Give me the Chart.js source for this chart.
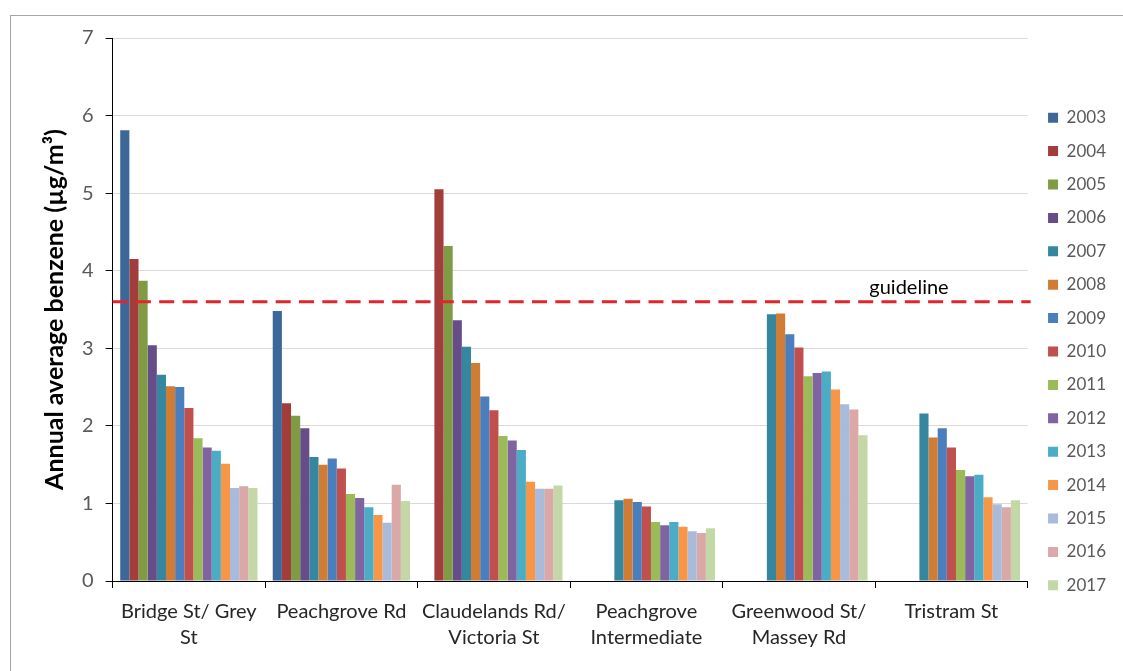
<!DOCTYPE html>
<html lang="en">
<head>
    <meta charset="UTF-8">
    <title>Annual average benzene</title>
    <style>
        body {
            margin: 0;
            background-color: #fff;
        }
        .frame {
            position: absolute;
            left: 10px;
            top: 15px;
            width: 1112px;
            height: 655px;
            border-left: 1px solid #a6a6a6;
            border-top: 1px solid #a6a6a6;
        }
    </style>
</head>
<body>
    <div class="frame">
        <canvas id="benzeneChart" width="1112" height="655"></canvas>
    </div>

    <script src="https://cdn.jsdelivr.net/npm/chart.js"></script>
    <script>
        const sites = [['Bridge St/ Grey', 'St'], 'Peachgrove Rd', ['Claudelands Rd/', 'Victoria St'], ['Peachgrove', 'Intermediate'], ['Greenwood St/', 'Massey Rd'], 'Tristram St'];
        const years = ['2003', '2004', '2005', '2006', '2007', '2008', '2009', '2010', '2011', '2012', '2013', '2014', '2015', '2016', '2017'];

        // annual averages per site, 2003 -> 2017 (null = not monitored)
        const bridgeGrey = [5.81, 4.15, 3.87, 3.04, 2.66, 2.51, 2.50, 2.23, 1.84, 1.72, 1.68, 1.51, 1.20, 1.22, 1.20];
        const peachgroveRd = [3.48, 2.29, 2.13, 1.97, 1.60, 1.50, 1.58, 1.45, 1.12, 1.07, 0.95, 0.85, 0.75, 1.24, 1.03];
        const claudelands = [null, 5.05, 4.32, 3.36, 3.02, 2.81, 2.38, 2.20, 1.87, 1.81, 1.69, 1.28, 1.19, 1.19, 1.23];
        const peachgroveInt = [null, null, null, null, 1.04, 1.06, 1.02, 0.96, 0.76, 0.72, 0.76, 0.70, 0.64, 0.62, 0.68];
        const greenwood = [null, null, null, null, 3.44, 3.45, 3.18, 3.01, 2.64, 2.68, 2.70, 2.47, 2.28, 2.21, 1.88];
        const tristram = [null, null, null, null, 2.16, 1.85, 1.97, 1.72, 1.43, 1.35, 1.37, 1.08, 0.99, 0.95, 1.04];

        const guideline = 3.6;
        const yTicks = [0, 1, 2, 3, 4, 5, 6, 7];

        const colors = ['#3c6799', '#a13e3b', '#7f9c45', '#664d8a', '#35879f', '#d07c35', '#4a7ebd', '#c0504d',
                        '#9bbb59', '#8064a2', '#4bacc6', '#f79646', '#a8bbdb', '#d9a8a7', '#c4d7a6'];

        const siteRows = [bridgeGrey, peachgroveRd, claudelands, peachgroveInt, greenwood, tristram];
        const datasets = years.map((year, i) => ({
            label: year,
            data: siteRows.map(row => row[i]),
            backgroundColor: colors[i],
            categoryPercentage: 0.9,
            barPercentage: 1.0
        }));

        Chart.defaults.font.family = 'Lato, "Open Sans", sans-serif';

        const guidelinePlugin = {
            id: 'guideline',
            afterLayout(chart) {
                // push the legend a little right, like the Excel original
                chart.legend.left += 4;
                chart.legend.right += 4;
            },
            afterDatasetsDraw(chart) {
                const {ctx, chartArea, scales} = chart;
                const y = scales.y.getPixelForValue(guideline);
                ctx.save();
                ctx.strokeStyle = '#e0262a';
                ctx.lineWidth = 3;
                ctx.setLineDash([15, 8.3]);
                ctx.beginPath();
                ctx.moveTo(chartArea.left, y);
                ctx.lineTo(chartArea.right + 3, y);
                ctx.stroke();
                ctx.setLineDash([]);
                ctx.fillStyle = '#000';
                ctx.font = '20px Lato, "Open Sans", sans-serif';
                ctx.textAlign = 'right';
                ctx.textBaseline = 'alphabetic';
                ctx.fillText('guideline', chartArea.right - 79, y - 8);
                ctx.restore();
            }
        };

        new Chart(document.getElementById('benzeneChart'), {
            type: 'bar',
            data: {
                labels: sites,
                datasets: datasets
            },
            options: {
                responsive: false,
                animation: false,
                devicePixelRatio: 1,
                layout: {
                    padding: {top: 0, bottom: 9, left: 15, right: 11}
                },
                plugins: {
                    legend: {
                        position: 'right',
                        title: {
                            display: true,
                            text: '',
                            font: {size: 10},
                            padding: {top: 13, bottom: 0}
                        },
                        labels: {
                            boxWidth: 10,
                            boxHeight: 10,
                            padding: 16.4,
                            color: '#595959',
                            font: {size: 17}
                        }
                    },
                    tooltip: {enabled: false}
                },
                scales: {
                    x: {
                        grid: {
                            drawOnChartArea: false,
                            tickLength: 7,
                            tickColor: '#000'
                        },
                        border: {color: '#000'},
                        ticks: {
                            color: '#262626',
                            padding: 11,
                            maxRotation: 0,
                            autoSkip: false,
                            font: {size: 20, lineHeight: 1.3}
                        }
                    },
                    y: {
                        min: 0,
                        max: 7,
                        afterBuildTicks(axis) {
                            axis.ticks = yTicks.map(v => ({value: v}));
                        },
                        grid: {
                            color: '#d9d9d9',
                            tickColor: '#000',
                            tickLength: 7
                        },
                        border: {color: '#000'},
                        ticks: {
                            color: '#595959',
                            padding: 12,
                            font: {size: 20, lineHeight: 1.0}
                        },
                        title: {
                            display: true,
                            text: 'Annual average benzene (µg/m³)',
                            color: '#000',
                            font: {size: 25, weight: 'bold'},
                            padding: {top: 14, bottom: 0}
                        }
                    }
                }
            },
            plugins: [guidelinePlugin]
        });
    </script>
</body>
</html>
